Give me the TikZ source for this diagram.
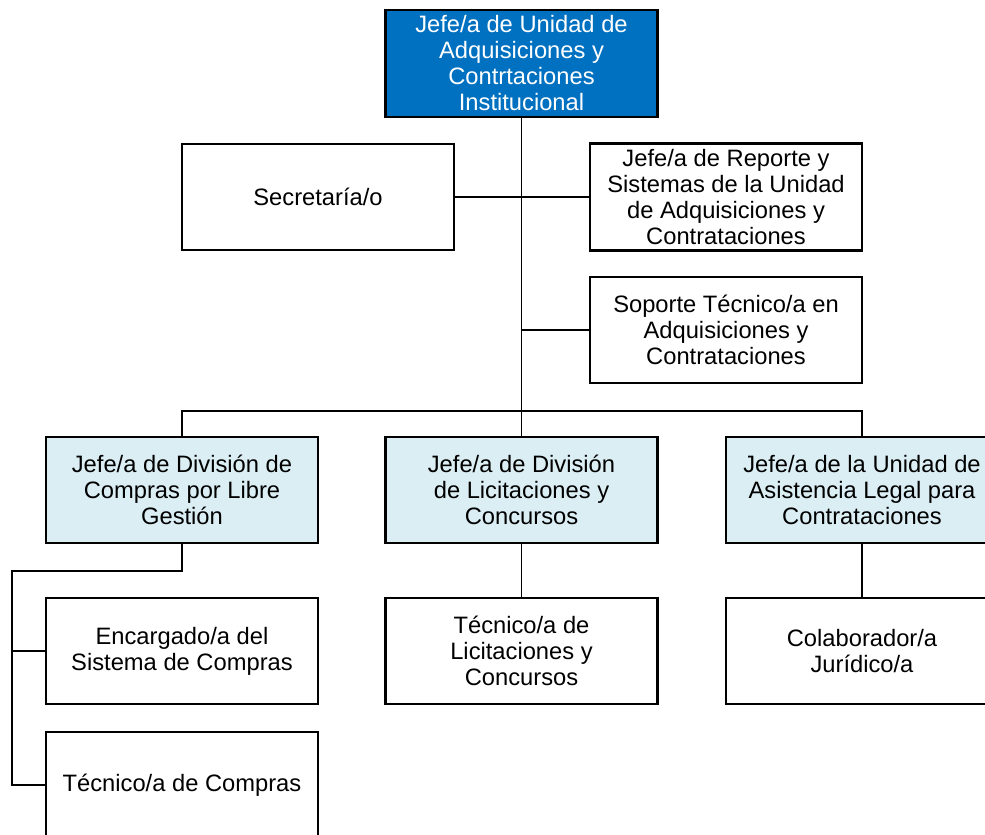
\documentclass[tikz,border=0pt]{standalone}
\usepackage{fontspec}
\setmainfont{Liberation Sans}
\usepackage{xcolor}
\usetikzlibrary{calc}
\definecolor{cTopBlue}{HTML}{0070C0}
\definecolor{cLightBlue}{HTML}{DBEEF4}
\tikzstyle{tsText} = [ 
    text=black, 
    font=\fontsize{13.5}{14.8}\selectfont
]
\tikzstyle{tsWraptext} = [ 
    tsText, 
    text centered, 
    align=center
]
\tikzstyle{tsRectangle} = [ 
    rectangle,
    tsWraptext,               
    draw=black,
    fill=white,
    minimum width=5.44cm,
    minimum height=2.12cm,
    line width=1.4pt]
\tikzstyle{tsHead} = [ 
    tsRectangle,
    fill=cTopBlue,
    text=white]
\tikzstyle{tsDivision} = [ 
    tsRectangle,
    fill=cLightBlue]
\tikzstyle{tsLine} = [ 
    draw=black,
    line width=1.1pt]
\begin{document}
\begin{tikzpicture}
        
        \useasboundingbox (0,0) rectangle (19.7,-16.68);
        \clip (0,0) rectangle (19.7,-16.68);
        
        \node[tsHead, minimum height=2.14cm] (head) at (10.43,-1.27)
            {Jefe/a de Unidad de\\Adquisiciones y\\Contrtaciones\\Institucional};
                
        \node[tsRectangle] (secretaria) at (6.36,-3.94) {Secretaría/o};
        \node[tsRectangle] (reporte) at (14.52,-3.94)
            {Jefe/a de Reporte y\\Sistemas de la Unidad\\de Adquisiciones y\\Contrataciones};
        \node[tsRectangle] (soporte) at (14.52,-6.6)
            {Soporte Técnico/a en\\Adquisiciones y\\Contrataciones};
          	
        \node[tsDivision] (compras) at (3.64,-9.8)
            {Jefe/a de División de\\Compras por Libre\\Gestión};
        \node[tsDivision] (licitaciones) at (10.43,-9.8)
            {Jefe/a de División\\de Licitaciones y\\Concursos};
        \node[tsDivision] (legal) at (17.24,-9.8)
            {Jefe/a de la Unidad de\\Asistencia Legal para\\Contrataciones};
   	 	
        \node[tsRectangle] (encargado) at (3.64,-13.02)
            {Encargado/a del\\Sistema de Compras};
        \node[tsRectangle] (tecLicitaciones) at (10.43,-13.02)
            {Técnico/a de\\Licitaciones y\\Concursos};
        \node[tsRectangle] (colaborador) at (17.24,-13.02)
            {Colaborador/a\\Jurídico/a};
        \node[tsRectangle] (tecCompras) at (3.64,-15.7) {Técnico/a de Compras};
   	 	
        % connectors
        \coordinate (bus) at (10.43,-8.22);
        \coordinate (leftBus) at (0.24,-11.42);
        
        \draw[tsLine] (head.south) -- (head.south |- bus);
        \draw[tsLine] (secretaria.east) -- (reporte.west);
        \draw[tsLine] (soporte.west) -- (soporte.west -| head.south);
        \draw[tsLine] (compras.north) |- (bus) -| (legal.north);
        \draw[tsLine] (licitaciones.north) -- (licitaciones.north |- bus);
        
        \draw[tsLine] (compras.south) |- (leftBus) |- (tecCompras.west);
        \draw[tsLine] (encargado.west) -- (encargado.west -| leftBus);
        \draw[tsLine] (licitaciones.south) -- (tecLicitaciones.north);
        \draw[tsLine] (legal.south) -- (colaborador.north);
   	 	
\end{tikzpicture}
\end{document}
